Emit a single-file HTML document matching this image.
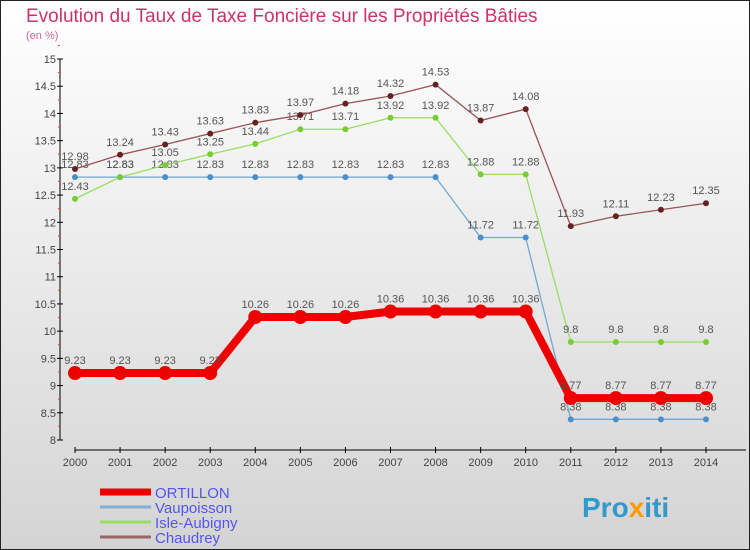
<!DOCTYPE html>
<html><head><meta charset="utf-8"><style>
body{margin:0;}
#c{width:750px;height:550px;position:relative;overflow:hidden;font-family:"Liberation Sans",sans-serif;}
</style></head><body>
<div id="c">
<svg id="s" width="750" height="550" xmlns="http://www.w3.org/2000/svg">
<defs><linearGradient id="bg" x1="0" y1="0" x2="0" y2="1"><stop offset="0" stop-color="#ffffff"/><stop offset="1" stop-color="#d4d4d4"/></linearGradient></defs>
<rect x="0.5" y="0.5" width="749" height="549" fill="url(#bg)" stroke="#222"/>
<text x="26" y="22" font-size="19" fill="#cc3366">Evolution du Taux de Taxe Foncière sur les Propriétés Bâties</text>
<text x="26" y="39" font-size="11" fill="#cc6699">(en %)</text>
<g id="axes"></g><g id="series"></g><g id="legend"></g>
<text x="582" y="517" font-size="28" font-weight="bold" fill="#3399cc">Pro<tspan fill="#ff9900">x</tspan>iti</text>
</svg></div>
<script>
const years=[2000,2001,2002,2003,2004,2005,2006,2007,2008,2009,2010,2011,2012,2013,2014];
const yTicks=[8,8.5,9,9.5,10,10.5,11,11.5,12,12.5,13,13.5,14,14.5,15];
const ortillon=[9.23,9.23,9.23,9.23,10.26,10.26,10.26,10.36,10.36,10.36,10.36,8.77,8.77,8.77,8.77];
const vaupoisson=[12.83,12.83,12.83,12.83,12.83,12.83,12.83,12.83,12.83,11.72,11.72,8.38,8.38,8.38,8.38];
const isleAubigny=[12.43,12.83,13.05,13.25,13.44,13.71,13.71,13.92,13.92,12.88,12.88,9.8,9.8,9.8,9.8];
const chaudrey=[12.98,13.24,13.43,13.63,13.83,13.97,14.18,14.32,14.53,13.87,14.08,11.93,12.11,12.23,12.35];
const seriesNames=["ORTILLON","Vaupoisson","Isle-Aubigny","Chaudrey"];
const NS="http://www.w3.org/2000/svg";
const X=i=>75+i*(706-75)/(years.length-1);
const Y=v=>440-(v-8)*(381/7);
function mk(t,a,p){const e=document.createElementNS(NS,t);for(const k in a)e.setAttribute(k,a[k]);p.appendChild(e);return e;}
const ax=document.getElementById('axes');
let yl=mk('line',{x1:60,y1:Y(15),x2:60,y2:Y(8),stroke:'#000'},ax);


yTicks.forEach(v=>{
 mk('line',{x1:57,x2:63,y1:Y(v),y2:Y(v),stroke:'#000'},ax);
 mk('line',{x1:58,x2:60,y1:Y(v+0.25),y2:Y(v+0.25),stroke:'#f33'},ax);
 const t=mk('text',{x:56,y:Y(v)+4,'font-size':11,fill:'#444','text-anchor':'end'},ax);t.textContent=String(v);
 
 
});
let xl=mk('line',{x1:75,y1:450,x2:746,y2:450,stroke:'#000'},ax);


years.forEach((y,i)=>{
 mk('line',{x1:X(i),x2:X(i),y1:447,y2:453,stroke:'#000'},ax);
 const t=mk('text',{x:X(i),y:466,'font-size':11,fill:'#444','text-anchor':'middle'},ax);t.textContent=y;
 
 
});
const sg=document.getElementById('series');
function draw(data,line,dot,w,r,name){
 const g=mk('g',{},sg);
 
 
 mk('polyline',{points:data.map((v,i)=>X(i)+','+Y(v)).join(' '),fill:'none',stroke:line,'stroke-width':w},g);
 data.forEach((v,i)=>{
  const c=mk('circle',{cx:X(i),cy:Y(v),r:r,fill:dot},g);
  
  
  const t=mk('text',{x:X(i),y:Y(v)-9,'font-size':11,fill:'#555','text-anchor':'middle'},g);t.textContent=String(v);
  
  
 });
}
draw(vaupoisson,'#6fa8d8','#4a8fcc',1.3,3,'series-vaupoisson');
draw(isleAubigny,'#99dd66','#77cc33',1.3,3,'series-isle-aubigny');
draw(chaudrey,'#995555','#662222',1.3,3,'series-chaudrey');
draw(ortillon,'#ee0000','#ee0000',8,7,'series-ortillon');
const lg=document.getElementById('legend');
const lc=['#ee0000','#7fb0d8','#99dd66','#996666'],lw=[7,3,3,3];
seriesNames.forEach((n,i)=>{
 const y=492+i*15;
 const g=mk('g',{},lg);
 
 
 mk('line',{x1:100,x2:151,y1:y,y2:y,stroke:lc[i],'stroke-width':lw[i]},g);
 const t=mk('text',{x:155,y:y+6,'font-size':15,fill:'#5555ee'},g);t.textContent=n;
});
</script>
</body></html>
